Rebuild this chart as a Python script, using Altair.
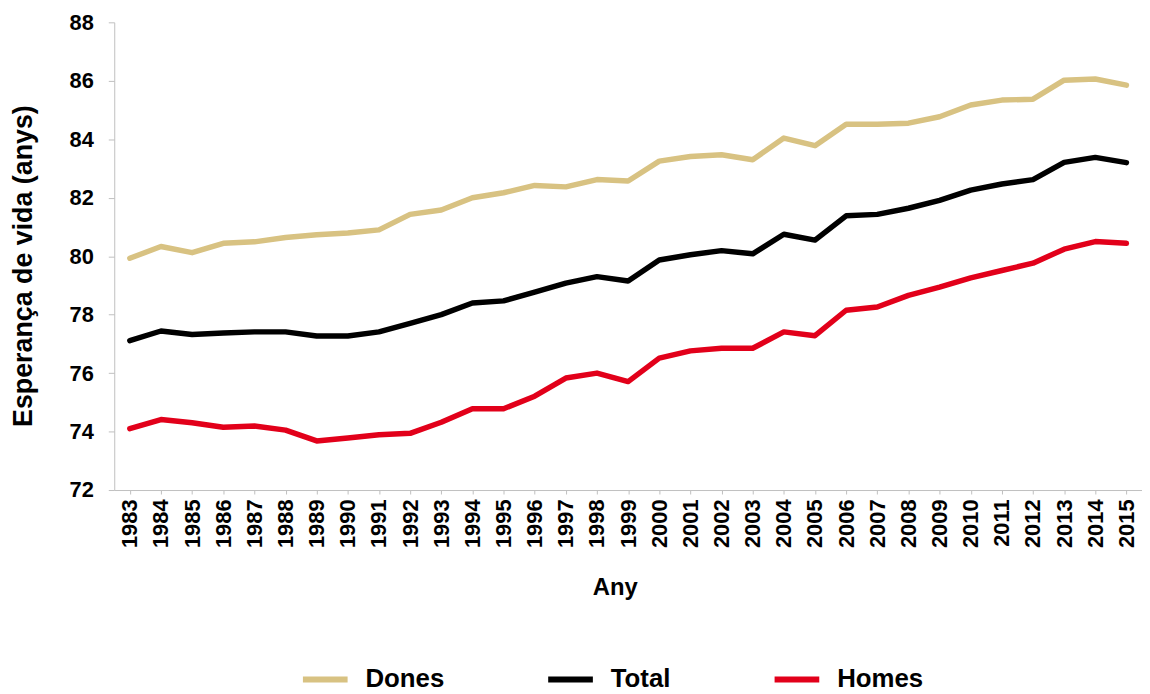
import altair as alt
import pandas as pd

years = list(range(1983, 2016))

dones = [79.93, 80.33, 80.12, 80.44, 80.49, 80.64, 80.73, 80.79, 80.90, 81.43,
         81.58, 82.00, 82.17, 82.42, 82.37, 82.62, 82.57, 83.25, 83.41, 83.47,
         83.30, 84.04, 83.78, 84.51, 84.51, 84.55, 84.77, 85.17, 85.34, 85.37,
         86.02, 86.06, 85.85]

total = [77.11, 77.44, 77.32, 77.37, 77.41, 77.41, 77.27, 77.27, 77.41, 77.70,
         78.00, 78.40, 78.47, 78.77, 79.08, 79.30, 79.15, 79.87, 80.05, 80.19,
         80.08, 80.75, 80.55, 81.38, 81.43, 81.64, 81.91, 82.26, 82.47, 82.62,
         83.21, 83.38, 83.20]

homes = [74.10, 74.41, 74.30, 74.15, 74.19, 74.05, 73.68, 73.78, 73.89, 73.94,
         74.32, 74.78, 74.78, 75.21, 75.83, 76.00, 75.71, 76.51, 76.76, 76.85,
         76.85, 77.41, 77.28, 78.15, 78.26, 78.66, 78.94, 79.26, 79.51, 79.76,
         80.24, 80.50, 80.44]

series_names = ["Dones", "Total", "Homes"]
series_colors = ["#D8C282", "#000000", "#E2001A"]
y_ticks = [72, 74, 76, 78, 80, 82, 84, 86, 88]

rows = []
for name, vals in zip(series_names, [dones, total, homes]):
    for yr, v in zip(years, vals):
        rows.append({"Any": str(yr), "Serie": name, "Valor": v})
df = pd.DataFrame(rows)

FONT = "Liberation Sans"

chart = alt.Chart(df).mark_line(
    strokeWidth=5.5, strokeCap="round", strokeJoin="round"
).encode(
    x=alt.X(
        "Any:O",
        scale=alt.Scale(type="point", padding=0.5),
        axis=alt.Axis(
            title="Any",
            labelAngle=270,
            labelFontSize=22,
            labelPadding=5,
            tickSize=4,
            labelOverlap=False,
            titleFontSize=24,
            titleX=504,
            titleY=98,
            titleAlign="center",
            titleBaseline="middle",
        ),
    ),
    y=alt.Y(
        "Valor:Q",
        scale=alt.Scale(domain=[72, 88], nice=False, zero=False),
        axis=alt.Axis(
            title="Esperança de vida (anys)",
            values=y_ticks,
            labelFontSize=22,
            labelPadding=15,
            tickSize=6,
            grid=False,
            titleFontSize=27,
            titleAngle=270,
            titleX=-91,
            titleY=245,
            titleAlign="center",
            titleBaseline="middle",
        ),
    ),
    color=alt.Color(
        "Serie:N",
        scale=alt.Scale(domain=series_names, range=series_colors),
        sort=series_names,
        legend=alt.Legend(
            title=None,
            orient="none",
            direction="horizontal",
            legendX=187,
            legendY=636,
            symbolType="stroke",
            symbolSize=2025,
            symbolStrokeWidth=6,
            labelFontSize=26,
            labelFont=FONT,
            labelFontWeight="bold",
            labelOffset=15,
            columnPadding=92,
        ),
    ),
).properties(
    width=1035,
    height=471,
    padding={"left": 107, "top": 12, "right": 0, "bottom": 203},
    autosize=alt.AutoSizeParams(type="none"),
).configure_view(
    stroke=None
).configure_axis(
    domainColor="#BFBFBF",
    tickColor="#BFBFBF",
    labelFont=FONT,
    labelFontWeight="bold",
    labelColor="#000000",
    titleFont=FONT,
    titleFontWeight="bold",
    titleColor="#000000",
    domainWidth=1,
)

chart.save("out.html", embed_options={"renderer": "svg", "actions": False})
